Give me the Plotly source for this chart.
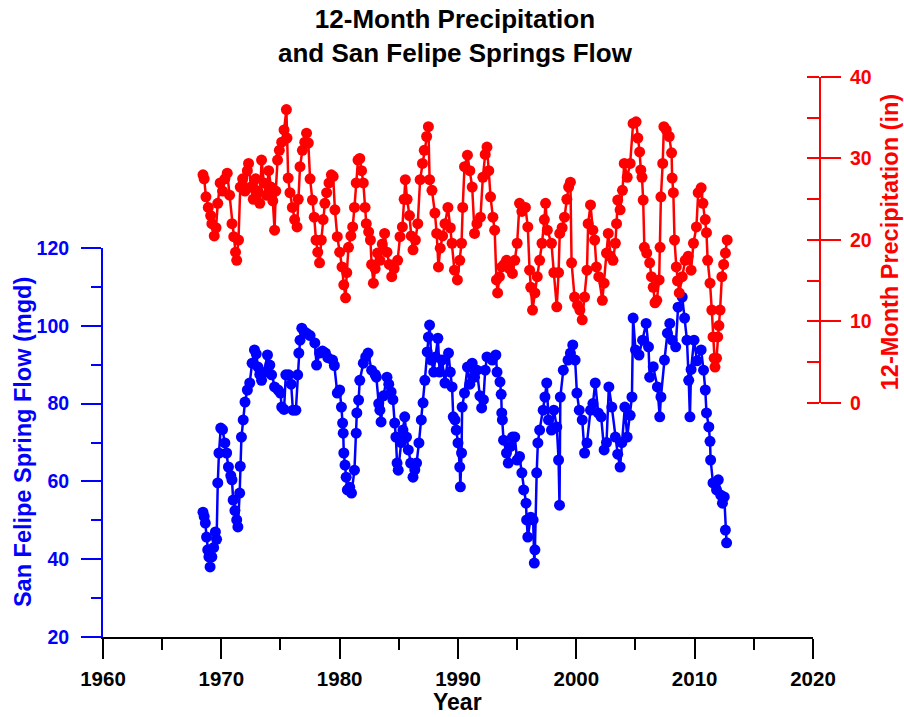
import plotly.graph_objects as go

# ---- data ----
red_year = [1968.45, 1968.55, 1968.7, 1968.9, 1969.1, 1969.2, 1969.4, 1969.55, 1969.7, 1969.9,
            1970.1, 1970.3, 1970.5, 1970.7, 1970.9, 1971.05, 1971.2, 1971.3, 1971.45, 1971.6,
            1971.8, 1972.0, 1972.2, 1972.3, 1972.5, 1972.7, 1972.9, 1973.1, 1973.25, 1973.4,
            1973.6, 1973.8, 1974.0, 1974.2, 1974.35, 1974.5, 1974.6, 1974.75, 1974.9, 1975.1,
            1975.3, 1975.5, 1975.55, 1975.65, 1975.8, 1976.0, 1976.2, 1976.4, 1976.5, 1976.65,
            1976.85, 1977.05, 1977.2, 1977.35, 1977.5, 1977.7, 1977.85, 1978.0, 1978.15, 1978.3,
            1978.45, 1978.6, 1978.75, 1978.9, 1979.1, 1979.3, 1979.45, 1979.6, 1979.8, 1980.0,
            1980.2, 1980.35, 1980.5, 1980.6, 1980.75, 1980.95, 1981.1, 1981.25, 1981.4, 1981.55,
            1981.7, 1981.85, 1982.0, 1982.15, 1982.25, 1982.45, 1982.6, 1982.7, 1982.85, 1983.0,
            1983.2, 1983.4, 1983.6, 1983.8, 1984.0, 1984.2, 1984.4, 1984.6, 1984.9, 1985.1,
            1985.3, 1985.45, 1985.55, 1985.7, 1985.9, 1986.05, 1986.2, 1986.4, 1986.6, 1986.8,
            1987.0, 1987.15, 1987.35, 1987.5, 1987.6, 1987.8, 1988.05, 1988.2, 1988.35, 1988.5,
            1988.7, 1988.9, 1989.15, 1989.35, 1989.5, 1989.7, 1989.95, 1990.15, 1990.3, 1990.4,
            1990.55, 1990.8, 1991.0, 1991.2, 1991.4, 1991.6, 1991.9, 1992.1, 1992.3, 1992.45,
            1992.6, 1992.75, 1992.95, 1993.1, 1993.25, 1993.35, 1993.5, 1993.7, 1993.9, 1994.1,
            1994.35, 1994.6, 1994.8, 1995.0, 1995.2, 1995.4, 1995.7, 1995.9, 1996.05, 1996.15,
            1996.3, 1996.5, 1996.7, 1996.9, 1997.1, 1997.3, 1997.4, 1997.55, 1997.9, 1998.1,
            1998.35, 1998.5, 1998.6, 1998.8, 1999.0, 1999.2, 1999.35, 1999.5, 1999.6, 1999.85,
            2000.1, 2000.3, 2000.5, 2000.7, 2000.9, 2001.0, 2001.2, 2001.4, 2001.55, 2001.7,
            2001.9, 2002.2, 2002.35, 2002.55, 2002.7, 2002.9, 2003.1, 2003.3, 2003.4, 2003.5,
            2003.7, 2003.9, 2004.05, 2004.3, 2004.55, 2004.8, 2005.05, 2005.2, 2005.35, 2005.45,
            2005.55, 2005.65, 2005.75, 2005.95, 2006.2, 2006.35, 2006.5, 2006.65, 2006.8, 2007.0,
            2007.08, 2007.15, 2007.3, 2007.4, 2007.6, 2007.85, 2008.05, 2008.1, 2008.2, 2008.3,
            2008.45, 2008.55, 2008.7, 2008.95, 2009.2, 2009.45, 2009.7, 2009.9, 2010.15, 2010.3,
            2010.55, 2010.7, 2010.9, 2011.0, 2011.1, 2011.3, 2011.45, 2011.55, 2011.65, 2011.72,
            2011.85, 2011.95, 2012.05, 2012.15, 2012.3, 2012.45, 2012.6, 2012.75]
red_precip = [28.0, 27.5, 25.3, 24.0, 23.0, 22.0, 20.5, 21.5, 24.5, 27.0,
              26.0, 27.5, 28.2, 25.5, 22.0, 20.4, 18.5, 17.5, 20.0, 26.5,
              27.5, 26.0, 28.5, 29.4, 26.5, 25.0, 27.5, 26.0, 24.5, 29.8,
              27.0, 25.5, 28.5, 26.5, 24.8, 21.2, 26.0, 29.8, 31.0, 32.0,
              33.5, 36.0, 32.5, 27.6, 25.8, 24.0, 22.5, 21.6, 25.0, 29.0,
              31.0, 32.0, 33.1, 31.9, 27.5, 24.9, 22.8, 20.0, 18.5, 17.2,
              20.0, 22.5, 24.5, 25.8, 27.0, 28.0, 27.8, 23.7, 20.4, 18.5,
              16.7, 14.5, 12.9, 16.0, 19.1, 20.5, 21.6, 24.0, 27.0, 29.8,
              30.0, 28.5, 27.0, 24.0, 22.0, 21.0, 20.0, 17.0, 14.7, 16.5,
              18.4, 17.5, 19.5, 20.8, 18.5, 17.0, 15.5, 16.5, 17.5, 20.4,
              21.6, 25.0, 27.4, 25.0, 23.0, 20.5, 18.8, 20.0, 22.0, 27.4,
              29.4, 31.0, 32.7, 33.9, 27.4, 26.1, 23.3, 20.8, 16.7, 19.0,
              20.5, 22.0, 24.0, 21.5, 19.6, 16.3, 15.1, 17.5, 19.6, 24.0,
              29.0, 30.4, 28.5, 26.5, 20.8, 22.0, 22.8, 27.7, 30.5, 31.4,
              28.5, 25.3, 22.8, 21.2, 15.1, 13.5, 15.5, 16.7, 17.0, 17.5,
              16.5, 15.9, 17.5, 19.6, 24.5, 23.5, 24.0, 21.6, 16.3, 14.2,
              11.4, 13.5, 15.5, 17.5, 19.6, 22.5, 24.5, 21.2, 19.6, 16.0,
              11.8, 16.0, 20.8, 21.5, 22.8, 25.0, 26.5, 27.1, 17.2, 13.0,
              12.0, 11.4, 10.2, 13.0, 16.3, 22.0, 24.3, 21.2, 20.0, 16.7,
              15.5, 12.6, 14.7, 18.4, 20.8, 18.0, 17.5, 19.6, 22.0, 24.9,
              23.7, 26.1, 29.4, 27.7, 29.4, 34.3, 34.5, 32.5, 30.8, 28.6,
              27.7, 24.9, 19.1, 18.4, 17.2, 15.5, 14.2, 12.3, 12.6, 15.1,
              19.1, 25.3, 29.4, 33.9, 33.5, 32.7, 30.7, 27.6, 25.8, 20.0,
              16.7, 15.0, 13.5, 15.5, 17.5, 18.0, 16.3, 19.6, 21.6, 25.8,
              26.4, 24.5, 22.5, 20.9, 17.5, 14.7, 11.4, 8.1, 5.5, 4.4,
              5.5, 8.1, 9.5, 11.4, 15.5, 17.0, 18.4, 20.0]

blue_year = [1968.45, 1968.55, 1968.65, 1968.75, 1968.85, 1968.95, 1969.05, 1969.2, 1969.35, 1969.5,
             1969.6, 1969.7, 1969.8, 1969.95, 1970.1, 1970.3, 1970.45, 1970.6, 1970.8, 1970.9,
             1971.0, 1971.15, 1971.3, 1971.4, 1971.55, 1971.6, 1971.7, 1971.85, 1972.0, 1972.2,
             1972.4, 1972.6, 1972.8, 1972.95, 1973.1, 1973.25, 1973.4, 1973.6, 1973.9, 1974.1,
             1974.25, 1974.5, 1974.8, 1975.0, 1975.1, 1975.3, 1975.45, 1975.7, 1975.9, 1976.05,
             1976.3, 1976.45, 1976.55, 1976.65, 1976.8, 1977.0, 1977.2, 1977.5, 1977.9, 1978.05,
             1978.3, 1978.55, 1978.8, 1979.0, 1979.4, 1979.55, 1979.8, 1980.0, 1980.15, 1980.25,
             1980.3, 1980.35, 1980.45, 1980.55, 1980.65, 1980.85, 1981.0, 1981.25, 1981.4, 1981.45,
             1981.6, 1981.7, 1982.0, 1982.2, 1982.4, 1982.7, 1983.0, 1983.1, 1983.3, 1983.4,
             1983.5, 1983.7, 1984.0, 1984.15, 1984.35, 1984.5, 1984.65, 1984.75, 1984.85, 1984.95,
             1985.2, 1985.35, 1985.5, 1985.65, 1985.8, 1986.0, 1986.2, 1986.35, 1986.5, 1986.7,
             1986.9, 1987.05, 1987.2, 1987.4, 1987.5, 1987.6, 1987.75, 1987.95, 1988.1, 1988.3,
             1988.45, 1988.65, 1988.9, 1989.2, 1989.35, 1989.5, 1989.6, 1989.75, 1989.85, 1990.0,
             1990.15, 1990.2, 1990.3, 1990.35, 1990.55, 1990.8, 1991.0, 1991.2, 1991.4, 1991.6,
             1991.85, 1992.0, 1992.15, 1992.3, 1992.45, 1992.9, 1993.2, 1993.3, 1993.55, 1993.65,
             1993.7, 1993.75, 1993.85, 1994.1, 1994.25, 1994.45, 1994.6, 1994.8, 1995.0, 1995.2,
             1995.4, 1995.55, 1995.75, 1995.8, 1995.9, 1996.15, 1996.35, 1996.45, 1996.5, 1996.65,
             1996.75, 1996.9, 1997.2, 1997.35, 1997.5, 1997.65, 1997.9, 1998.1, 1998.35, 1998.5,
             1998.58, 1998.65, 1998.9, 1999.3, 1999.5, 1999.7, 1999.9, 2000.05, 2000.25, 2000.5,
             2000.7, 2000.9, 2001.2, 2001.4, 2001.6, 2001.85, 2002.1, 2002.35, 2002.55, 2002.75,
             2003.0, 2003.3, 2003.5, 2003.7, 2003.85, 2004.1, 2004.3, 2004.55, 2004.7, 2004.8,
             2005.0, 2005.3, 2005.6, 2005.9, 2006.1, 2006.2, 2006.5, 2006.85, 2007.05, 2007.15,
             2007.45, 2007.7, 2007.9, 2008.1, 2008.4, 2008.6, 2008.95, 2009.15, 2009.35, 2009.5,
             2009.6, 2009.7, 2009.95, 2010.2, 2010.55, 2010.75, 2010.9, 2011.0, 2011.2, 2011.3,
             2011.35, 2011.55, 2011.85, 2012.0, 2012.2, 2012.35, 2012.5, 2012.6, 2012.7]
blue_flow = [52.1, 51.0, 49.3, 45.7, 42.4, 40.6, 38.0, 40.6, 43.0, 47.0,
             45.1, 59.6, 67.3, 73.7, 73.3, 69.9, 67.3, 63.7, 61.5, 60.4,
             55.2, 52.5, 50.1, 48.3, 57.0, 63.9, 71.4, 75.8, 80.4, 83.5,
             85.3, 90.4, 93.8, 92.8, 89.4, 87.5, 86.0, 88.0, 92.5, 89.9,
             87.4, 84.3, 83.5, 82.7, 79.1, 78.5, 87.4, 87.4, 85.0, 78.3,
             78.3, 87.4, 93.0, 96.3, 99.4, 98.5, 98.1, 97.5, 95.6, 89.9,
             93.0, 93.5, 93.0, 91.8, 91.2, 89.8, 82.7, 83.5, 79.1, 75.0,
             72.4, 67.3, 64.2, 61.1, 57.8, 58.5, 57.0, 62.9, 72.4, 77.6,
             80.9, 86.0, 90.4, 92.0, 93.0, 88.6, 87.5, 86.8, 80.0, 78.3,
             75.3, 82.0, 86.8, 85.0, 83.0, 81.0, 75.0, 71.4, 64.7, 62.9,
             70.0, 73.2, 76.6, 71.4, 68.1, 64.7, 61.1, 63.0, 64.7, 69.9,
             75.8, 80.2, 86.0, 93.3, 97.1, 100.2, 91.2, 88.1, 92.0, 96.8,
             88.1, 91.2, 85.3, 93.0, 88.1, 84.3, 76.6, 75.8, 73.2, 69.9,
             63.7, 58.6, 67.3, 79.1, 82.7, 89.4, 85.0, 90.4, 86.8, 88.6,
             82.0, 78.9, 81.0, 88.6, 92.0, 91.2, 92.5, 88.1, 85.6, 82.4,
             77.6, 75.8, 70.6, 67.3, 64.7, 69.0, 71.4, 71.4, 65.5, 66.4,
             62.2, 57.8, 54.4, 50.1, 45.7, 50.8, 50.1, 39.0, 42.4, 62.2,
             69.9, 73.2, 78.3, 81.7, 85.3, 75.8, 73.2, 78.3, 74.0, 65.5,
             53.9, 81.7, 88.6, 91.2, 93.0, 95.1, 91.2, 82.7, 78.3, 75.8,
             67.3, 69.9, 78.3, 80.0, 85.3, 77.6, 76.6, 68.1, 70.0, 84.3,
             79.1, 71.4, 67.0, 63.7, 70.0, 79.1, 71.4, 77.0, 81.7, 102.0,
             93.8, 92.5, 96.3, 100.6, 94.6, 86.8, 89.5, 84.3, 76.6, 81.7,
             91.2, 98.1, 100.6, 96.3, 94.6, 104.8, 107.4, 102.0, 96.3, 86.0,
             76.6, 88.8, 96.3, 91.0, 93.8, 88.6, 83.5, 77.6, 74.0, 70.3,
             65.5, 59.6, 57.8, 60.4, 56.5, 54.4, 56.0, 47.5, 44.2]

x_ticks = [1960, 1970, 1980, 1990, 2000, 2010, 2020]
flow_ticks = [20, 40, 60, 80, 100, 120]
precip_ticks = [0, 10, 20, 30, 40]

BLUE = "#0000ff"
RED = "#ff0000"
FONT = "Liberation Sans, Arial, sans-serif"

fig = go.Figure()
fig.add_trace(go.Scatter(
    x=blue_year, y=blue_flow, mode="lines+markers", xaxis="x", yaxis="y",
    line=dict(color=BLUE, width=2.5), marker=dict(color=BLUE, size=11),
    cliponaxis=False, showlegend=False))
fig.add_trace(go.Scatter(
    x=red_year, y=red_precip, mode="lines+markers", xaxis="x", yaxis="y2",
    line=dict(color=RED, width=2.5), marker=dict(color=RED, size=11),
    cliponaxis=False, showlegend=False))

fig.update_layout(
    width=904, height=717,
    margin=dict(l=103, r=84, t=77, b=80),
    paper_bgcolor="white", plot_bgcolor="rgba(0,0,0,0)",
    font=dict(family=FONT, weight="bold"),
    xaxis=dict(
        domain=[0, 0.9902], range=[1960, 2020], anchor="y",
        tickvals=x_ticks, ticks="outside", ticklen=20, tickwidth=2, tickcolor="black",
        minor=dict(dtick=5, ticks="outside", ticklen=11, tickwidth=2, tickcolor="black"),
        showline=True, linecolor="black", linewidth=2,
        showgrid=False, zeroline=False,
        tickfont=dict(family=FONT, size=20.5, color="black", weight="bold"),
        ticklabelstandoff=2,
    ),
    yaxis=dict(
        domain=[0, 0.6946], range=[20, 120], anchor="x",
        tickvals=flow_ticks, ticks="outside", ticklen=20, tickwidth=2, tickcolor=BLUE,
        minor=dict(dtick=10, ticks="outside", ticklen=10, tickwidth=2, tickcolor=BLUE),
        showline=True, linecolor=BLUE, linewidth=2,
        showgrid=False, zeroline=False,
        tickfont=dict(family=FONT, size=19.5, color=BLUE, weight="bold"),
        ticklabelstandoff=8,
    ),
    yaxis2=dict(
        domain=[0.4179, 1], range=[0, 40], anchor="free", position=1, side="right",
        tickvals=precip_ticks, ticks="outside", ticklen=20, tickwidth=2, tickcolor=RED,
        minor=dict(dtick=5, ticks="inside", ticklen=12, tickwidth=2, tickcolor=RED),
        showline=True, linecolor=RED, linewidth=2,
        showgrid=False, zeroline=False,
        tickfont=dict(family=FONT, size=19.5, color=RED, weight="bold"),
        ticklabelstandoff=5,
    ),
    annotations=[
        dict(text="12-Month Precipitation<br>and San Felipe Springs Flow",
             xref="paper", yref="paper", x=0.491, y=1.134, xanchor="center", yanchor="top",
             showarrow=False, font=dict(family=FONT, size=26, color="black", weight="bold")),
        dict(text="Year", xref="paper", yref="paper", x=0.495, y=-0.1155,
             xanchor="center", yanchor="middle", showarrow=False,
             font=dict(family=FONT, size=23, color="black", weight="bold")),
        dict(text="San Felipe Spring Flow (mgd)", xref="paper", yref="paper",
             x=-0.1116, y=0.348, xanchor="center", yanchor="middle", textangle=-90,
             showarrow=False, font=dict(family=FONT, size=23.5, color=BLUE, weight="bold")),
        dict(text="12-Month Precipitation (in)", xref="paper", yref="paper",
             x=1.0977, y=0.705, xanchor="center", yanchor="middle", textangle=-90,
             showarrow=False, font=dict(family=FONT, size=23.5, color=RED, weight="bold")),
    ],
)

fig.write_html("out.html", config={"displayModeBar": False},
               post_script="document.body.style.margin='0';document.body.style.padding='0';")
